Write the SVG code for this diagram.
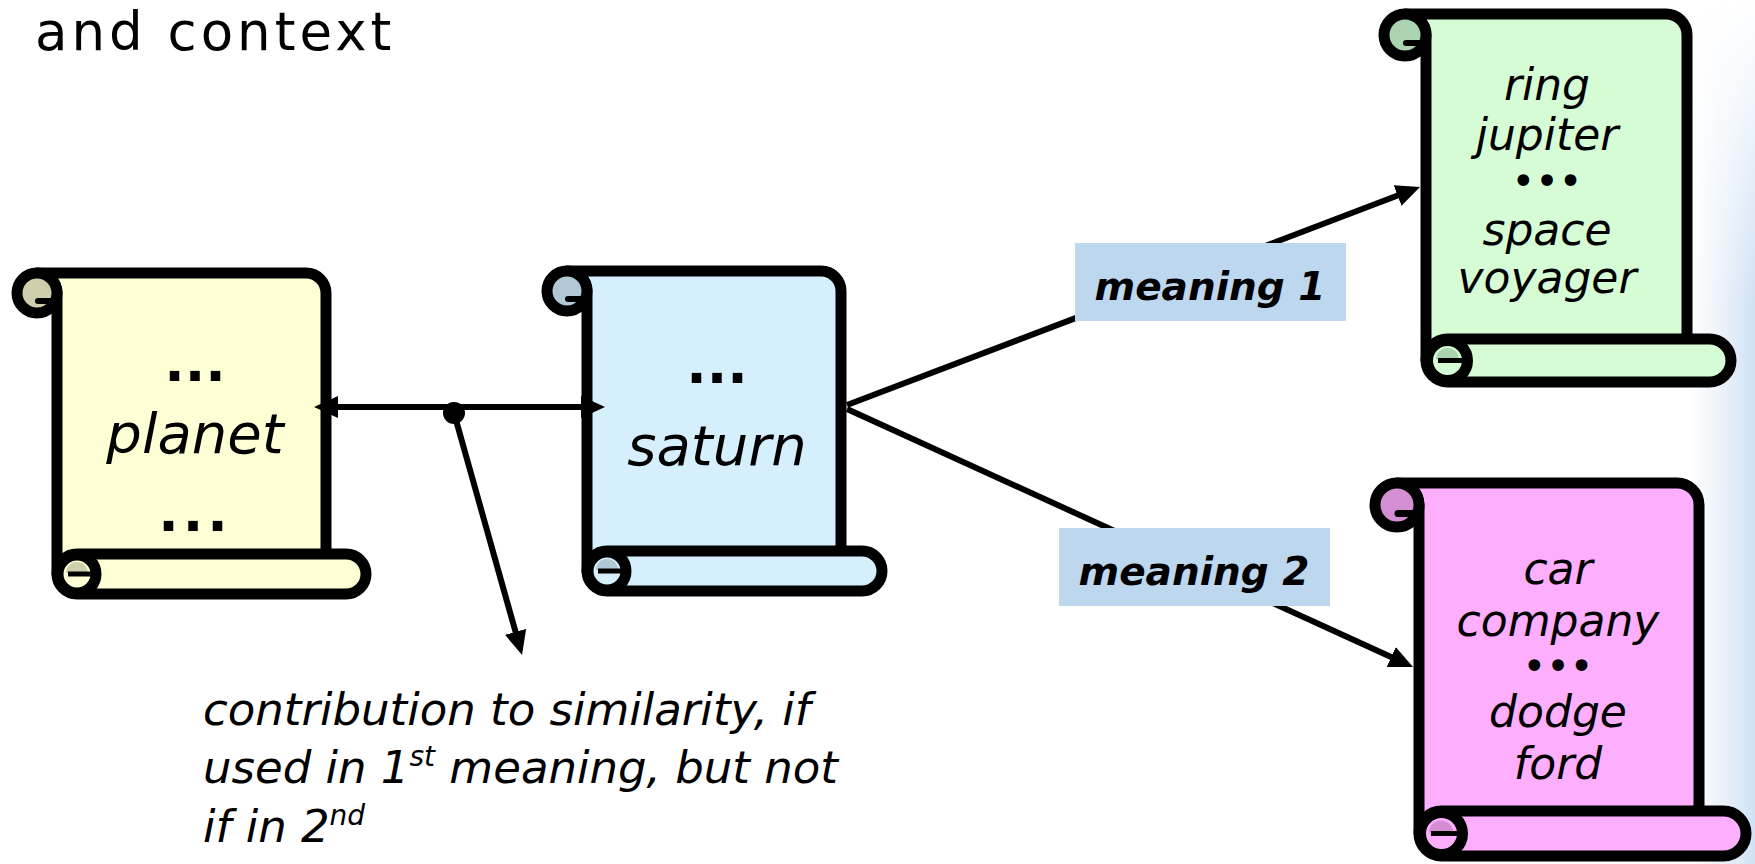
<svg xmlns="http://www.w3.org/2000/svg" width="1755" height="864" viewBox="0 0 1755 864">
  <style>
    .ol { stroke:#000; stroke-width:11; stroke-linejoin:round; }
    .txt { font-family:"DejaVu Sans", sans-serif; font-style:italic; fill:#000; text-anchor:middle; }
    .big { font-size:56px; }
    .mid { font-size:44px; }
    .pd { font-family:"DejaVu Sans", sans-serif; font-weight:bold; font-size:54px; fill:#000; text-anchor:middle; }
    .dots { font-family:"DejaVu Sans", sans-serif; font-size:40px; fill:#000; text-anchor:middle; }
    .lbl { font-family:"DejaVu Sans", sans-serif; font-style:italic; font-weight:bold; font-size:39px; fill:#000; text-anchor:middle; }
    .box { fill:#bdd7ee; }
    .conn { stroke:#000; stroke-width:6; fill:none; }
    .note { font-family:"DejaVu Sans", sans-serif; font-style:italic; font-size:45px; fill:#000; }
  </style>
  <defs>
    <marker id="arrow" viewBox="0 0 24 22" refX="12" refY="11" markerWidth="24" markerHeight="22" markerUnits="userSpaceOnUse" orient="auto-start-reverse">
      <path d="M0,0 L24,11 L0,22 Z" fill="#000"/>
    </marker>
    <linearGradient id="edge" x1="0" x2="1" y1="0" y2="0">
      <stop offset="0" stop-color="#dbe8f6" stop-opacity="0"/>
      <stop offset="1" stop-color="#d0e1f4"/>
    </linearGradient>
    <linearGradient id="fadeg" x1="0" x2="0" y1="0" y2="1">
      <stop offset="0" stop-color="#fff" stop-opacity="0"/>
      <stop offset="0.35" stop-color="#fff" stop-opacity="1"/>
      <stop offset="1" stop-color="#fff" stop-opacity="1"/>
    </linearGradient>
    <mask id="fade">
      <rect x="1690" y="0" width="65" height="864" fill="url(#fadeg)"/>
    </mask>
  </defs>

  <rect x="0" y="0" width="1755" height="864" fill="#fff"/>
  <rect x="1690" y="0" width="65" height="864" fill="url(#edge)" mask="url(#fade)"/>

  <text x="35" y="50" font-family="DejaVu Sans, sans-serif" font-size="53" letter-spacing="4" fill="#000">and context</text>

  <!-- planet scroll -->
  <g id="planet">
    <path class="ol" fill="#ffffd5" d="M37,273 H306 A20,20 0 0 1 326,293 V574 H57 V293 A20,20 0 0 0 37,273 Z"/>
    <text class="pd" x="195" y="381">...</text>
    <text class="txt big" x="195" y="453">planet</text>
    <text class="pd" x="195" y="531" letter-spacing="4">...</text>
    <rect class="ol" fill="#ffffd5" x="57" y="554" width="309" height="40" rx="20"/>
    <circle class="ol" fill="#ffffd5" cx="77" cy="574" r="19"/>
    <path fill="#cfcfac" d="M66,573 A11,11 0 0 1 88,573 Z"/>
    <line x1="68" y1="574" x2="96" y2="574" stroke="#000" stroke-width="5"/>
    <circle class="ol" fill="#cfcfac" cx="37" cy="293" r="20"/>
    <path fill="#000" d="M54,298 H38 A3,3 0 0 0 38,304 H54 Z"/>
  </g>

  <!-- saturn scroll -->
  <g id="saturn">
    <path class="ol" fill="#d5effd" d="M567,271 H821 A20,20 0 0 1 841,291 V571 H587 V291 A20,20 0 0 0 567,271 Z"/>
    <text class="pd" x="717" y="383">...</text>
    <text class="txt big" x="717" y="465">saturn</text>
    <text class="pd" x="717" y="566">...</text>
    <rect class="ol" fill="#d5effd" x="587" y="551" width="295" height="40" rx="20"/>
    <circle class="ol" fill="#d5effd" cx="607" cy="571" r="19"/>
    <path fill="#b2c8d6" d="M596,570 A11,11 0 0 1 618,570 Z"/>
    <line x1="598" y1="571" x2="626" y2="571" stroke="#000" stroke-width="5"/>
    <circle class="ol" fill="#b2c8d6" cx="567" cy="291" r="20"/>
    <path fill="#000" d="M584,296 H568 A3,3 0 0 0 568,302 H584 Z"/>
  </g>

  <!-- green scroll (meaning 1) -->
  <g id="meaning1-scroll">
    <path class="ol" fill="#d5fcd5" d="M1405,14 H1666 A21,21 0 0 1 1687,35 V360 H1426 V35 A21,21 0 0 0 1405,14 Z"/>
    <text class="txt mid" x="1547" y="100">ring</text>
    <text class="txt mid" x="1547" y="150">jupiter</text>
    <text class="dots" x="1547" y="195">•••</text>
    <text class="txt mid" x="1547" y="245">space</text>
    <text class="txt mid" x="1547" y="293">voyager</text>
    <rect class="ol" fill="#d5fcd5" x="1426" y="339" width="305" height="43" rx="21.5"/>
    <circle class="ol" fill="#d5fcd5" cx="1447.5" cy="360.5" r="20"/>
    <path fill="#abd3b0" d="M1436,359.5 A11.5,11.5 0 0 1 1459,359.5 Z"/>
    <line x1="1438" y1="360.5" x2="1467" y2="360.5" stroke="#000" stroke-width="5"/>
    <circle class="ol" fill="#abd3b0" cx="1405" cy="35" r="21"/>
    <path fill="#000" d="M1423,40 H1406 A3,3 0 0 0 1406,46 H1423 Z"/>
  </g>

  <!-- pink scroll (meaning 2) -->
  <g id="meaning2-scroll">
    <path class="ol" fill="#fdaefd" d="M1397,483 H1677 A22,22 0 0 1 1699,505 V833 H1419 V505 A22,22 0 0 0 1397,483 Z"/>
    <text class="txt mid" x="1558" y="584">car</text>
    <text class="txt mid" x="1558" y="636">company</text>
    <text class="dots" x="1558" y="680">•••</text>
    <text class="txt mid" x="1558" y="727">dodge</text>
    <text class="txt mid" x="1558" y="779">ford</text>
    <rect class="ol" fill="#fdaefd" x="1419" y="811" width="327" height="45" rx="22.5"/>
    <circle class="ol" fill="#fdaefd" cx="1441.5" cy="833.5" r="21"/>
    <path fill="#d48fd4" d="M1429,832.5 A12,12 0 0 1 1453,832.5 Z"/>
    <line x1="1431" y1="833.5" x2="1462" y2="833.5" stroke="#000" stroke-width="5"/>
    <circle class="ol" fill="#d48fd4" cx="1397" cy="505" r="22"/>
    <path fill="#000" d="M1416,510 H1398 A3.5,3.5 0 0 0 1398,517 H1416 Z"/>
  </g>

  <!-- connectors -->
  <g id="connectors">
    <path class="conn" d="M326,407 H593" marker-start="url(#arrow)" marker-end="url(#arrow)"/>
    <path class="conn" d="M454,413 L518.8,643.4" marker-end="url(#arrow)"/>
    <circle cx="454" cy="413" r="11" fill="#000"/>
    <path class="conn" d="M847,405 L1408.8,191.3" marker-end="url(#arrow)"/>
    <path class="conn" d="M847,409 L1402.1,662" marker-end="url(#arrow)"/>
  </g>

  <!-- edge labels -->
  <g id="label-meaning1">
    <rect class="box" x="1075" y="243" width="271" height="78"/>
    <text class="lbl" x="1210" y="300">meaning 1</text>
  </g>
  <g id="label-meaning2">
    <rect class="box" x="1059" y="528" width="271" height="78"/>
    <text class="lbl" x="1194" y="585">meaning 2</text>
  </g>

  <!-- annotation -->
  <g id="note">
    <text class="note" x="203" y="725">contribution to similarity, if</text>
    <text class="note" x="203" y="783">used in 1<tspan font-size="28" dy="-17">st</tspan><tspan dy="17"> meaning, but not</tspan></text>
    <text class="note" x="203" y="842">if in 2<tspan font-size="28" dy="-17">nd</tspan></text>
  </g>
</svg>
